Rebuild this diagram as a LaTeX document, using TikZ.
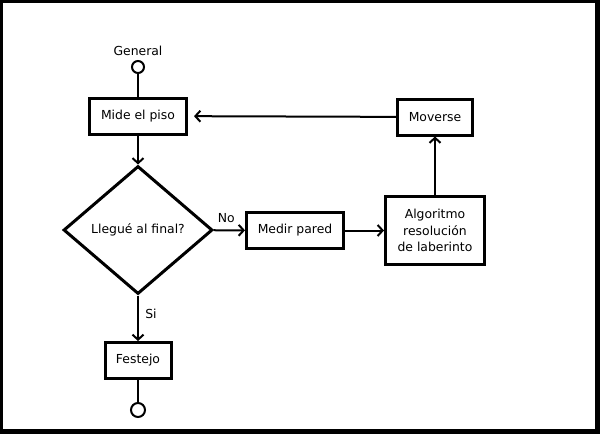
\documentclass[tikz,border=0pt]{standalone}
\usepackage{fontspec}
\setmainfont{DejaVu Sans}
\usetikzlibrary{shapes.geometric,arrows.meta}

\begin{document}
\begin{tikzpicture}[x=1pt, y=-1pt,
  font=\fontsize{12.4}{16.5}\selectfont,
  caja/.style={draw, line width=3pt, minimum height=36pt, inner sep=0pt, align=center},
  rombo/.style={draw, diamond, line width=3pt, minimum width=149pt, minimum height=128pt, inner sep=0pt},
  borne/.style={draw, circle, line width=2pt, minimum size=12pt, inner sep=0pt},
  flecha/.style={line width=2pt, -{Straight Barb[length=5pt, width=11pt, line width=2pt]}},
  linea/.style={line width=2.5pt}]

% Frame
\fill[black] (0,0) rectangle (600,434);
\fill[white] (3,3) rectangle (595,429);

% Boxes
\node[borne] (inicio) at (138,67) {};
\node[above=1pt] (general) at (inicio.north) {General};
\node[caja, minimum width=97pt] (piso) at (138,116) {Mide el piso};
\node[rombo] (final) at (138,230) {Llegué al final?};
\node[caja, minimum width=97pt] (pared) at (295,230.5) {Medir pared};
\node[caja, minimum width=99pt, minimum height=68pt] (algoritmo) at (435,230.5) {Algoritmo\\resolución\\de laberinto};
\node[caja, minimum width=75pt] (moverse) at (435,117) {Moverse};
\node[caja, minimum width=66pt] (festejo) at (138,360.5) {Festejo};
\node[borne, minimum size=14pt] (fin) at (138,410) {};

% Connectors
\draw[linea] (inicio) -- (piso);
\draw[flecha] (piso) -- (final);
\draw[flecha] (final) -- node[above=3pt, pos=0.4] (no) {No} (pared);
\draw[flecha] (pared) -- (algoritmo);
\draw[flecha] (algoritmo) -- (moverse);
\draw[flecha, shorten >=6pt] (moverse) -- (piso);
\draw[flecha] (final) -- node[right=3pt, pos=0.4] (si) {Si} (festejo);
\draw[linea] (festejo) -- (fin);
\end{tikzpicture}
\end{document}
